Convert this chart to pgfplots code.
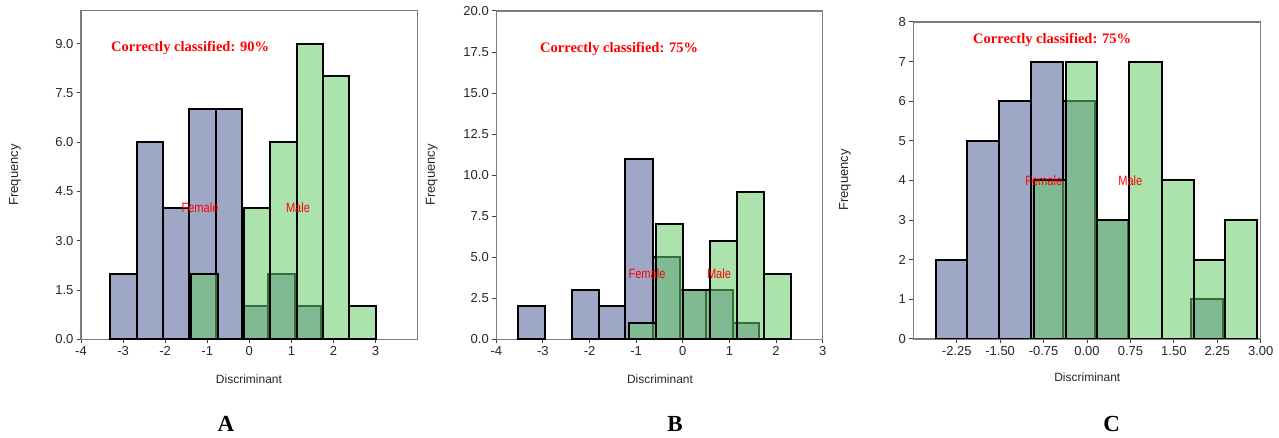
\documentclass[border=0pt]{standalone}
\usepackage{fontspec}
\setmainfont{Liberation Sans}
\newfontfamily\timesfont{Liberation Serif}
\newfontfamily\narrowsans{Liberation Sans}[FakeStretch=0.82]
\usepackage{pgfplots}
\pgfplotsset{compat=1.18}

\definecolor{femblue}{RGB}{158,168,198}
\definecolor{malegreen}{RGB}{104,202,104}
\definecolor{framegray}{RGB}{125,125,125}

\pgfplotsset{
  histax/.style={
    scale only axis, anchor=south west,
    axis line style={draw=framegray, line width=1.3pt},
    tick align=outside, xtick pos=left, ytick pos=left,
    major tick length=4pt,
    tick style={draw=black!75, line width=1pt},
    tick label style={font=\fontsize{13}{15}\selectfont, text=black!85},
    /pgf/number format/assume math mode=true,
  },
  fem/.style={ybar interval, fill=femblue, draw=black, line width=2pt},
  mal/.style={ybar interval, fill=malegreen, fill opacity=0.55, draw=black, line width=2pt},
}

\newcommand{\ccl}[1]{{\timesfont\bfseries\fontsize{14.5}{16}\selectfont\color{red}Correctly classified: #1\%}}
\newcommand{\sexlab}[1]{{\narrowsans\fontsize{13.5}{15}\selectfont\color{red}#1}}

\begin{document}
\begin{tikzpicture}
\useasboundingbox (0,0) rectangle (1279pt,438pt);

% --- A ---
\begin{axis}[histax,
  at={(81pt,98.7pt)}, width=336.7pt, height=328.6pt,
  xmin=-4, xmax=4, ymin=0, ymax=10,
  xtick={-4,-3,-2,-1,0,1,2,3},
  ytick={0,1.5,3,4.5,6,7.5,9},
  yticklabel style={/pgf/number format/.cd, fixed, fixed zerofill, precision=1},
]
\addplot[fem] table {
x y
-3.300 2
-2.675 6
-2.050 4
-1.425 7
-0.800 7
-0.175 1
0.450 2
1.075 1
1.700 0
};
\addplot[mal] table {
x y
-1.375 2
-0.750 0
};
\addplot[mal] table {
x y
-0.125 4
0.500 6
1.125 9
1.750 8
2.375 1
3.000 0
};
\end{axis}

% --- B ---
\begin{axis}[histax,
  at={(496.3pt,98.7pt)}, width=326.4pt, height=328.3pt,
  xmin=-4, xmax=3, ymin=0, ymax=20,
  xtick={-4,-3,-2,-1,0,1,2,3},
  ytick={0,2.5,5,7.5,10,12.5,15,17.5,20},
  yticklabel style={/pgf/number format/.cd, fixed, fixed zerofill, precision=1},
]
\addplot[fem] table {
x y
-3.53 2
-2.95 0
};
\addplot[fem] table {
x y
-2.37 3
-1.80 2
-1.23 11
-0.65 5
-0.07 3
0.50 3
1.07 1
1.64 0
};
\addplot[mal] table {
x y
-1.150 1
-0.575 7
0.000 3
0.580 6
1.155 9
1.740 4
2.320 0
};
\end{axis}

% --- C ---
\begin{axis}[histax,
  at={(913.3pt,99pt)}, width=347.4pt, height=317pt,
  xmin=-3, xmax=3, ymin=0, ymax=8,
  xtick={-2.25,-1.5,-0.75,0,0.75,1.5,2.25,3},
  ytick={0,1,2,3,4,5,6,7,8},
  xticklabel style={/pgf/number format/.cd, fixed, fixed zerofill, precision=2},
]
\addplot[fem] table {
x y
-2.61 2
-2.07 5
-1.52 6
-0.967 7
-0.412 6
0.14 3
0.70 0
};
\addplot[fem] table {
x y
1.79 1
2.34 0
};
\addplot[mal] table {
x y
-0.91 4
-0.36 7
0.18 3
0.73 7
1.29 4
1.84 2
2.39 3
2.94 0
};
\end{axis}

% --- texts ---
\node[anchor=west, inner sep=0pt] at (111pt,390pt) {\ccl{90}};
\node[anchor=west, inner sep=0pt] at (540pt,389pt) {\ccl{75}};
\node[anchor=west, inner sep=0pt] at (973pt,398pt) {\ccl{75}};

\node at (200pt,230.3pt) {\sexlab{Female}};
\node at (298pt,230.3pt) {\sexlab{Male}};
\node at (647pt,164pt) {\sexlab{Female}};
\node at (719pt,164pt) {\sexlab{Male}};
\node at (1043.7pt,257.2pt) {\sexlab{Female}};
\node at (1130.3pt,257.2pt) {\sexlab{Male}};

\begin{scope}[every node/.style={font=\fontsize{13}{15}\selectfont, text=black!85}]
\node[rotate=90] at (15pt,263pt) {Frequency};
\node[rotate=90] at (431.7pt,263pt) {Frequency};
\node[rotate=90] at (845pt,258pt) {Frequency};
\end{scope}
\begin{scope}[every node/.style={font=\fontsize{12}{14}\selectfont, text=black!85}]
\node at (249pt,58.7pt) {Discriminant};
\node at (660pt,58.7pt) {Discriminant};
\node at (1087.3pt,60.3pt) {Discriminant};
\end{scope}

\begin{scope}[every node/.style={font=\timesfont\bfseries\fontsize{23}{25}\selectfont, anchor=base, inner sep=0pt}]
\node at (226pt,6pt) {A};
\node at (675pt,6pt) {B};
\node at (1111.7pt,6pt) {C};
\end{scope}
\end{tikzpicture}
\end{document}
